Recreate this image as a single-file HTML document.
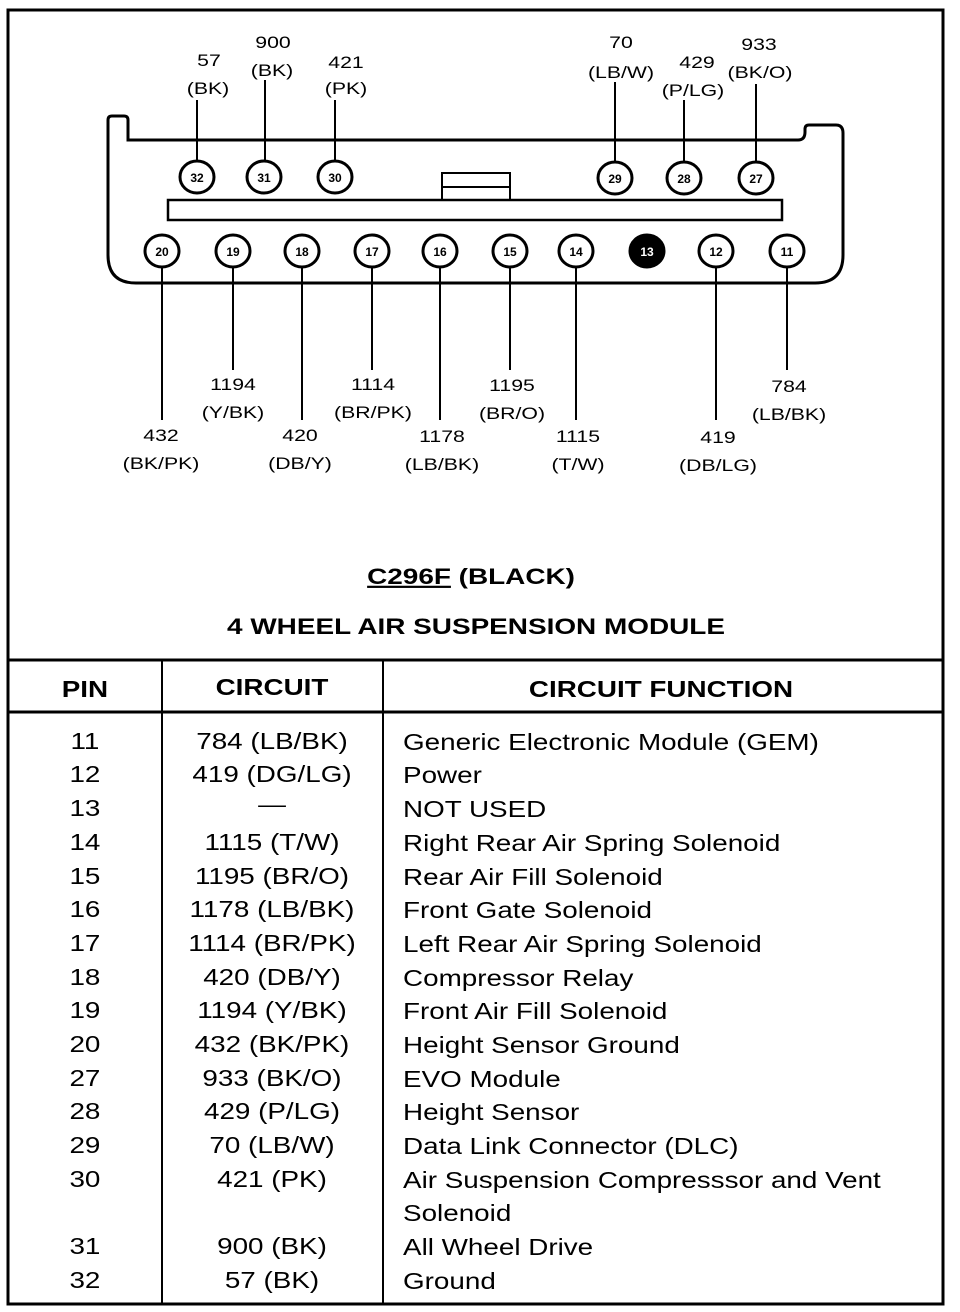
<!DOCTYPE html>
<html><head><meta charset="utf-8"><style>
html,body{margin:0;padding:0;background:#fff;}
svg{display:block;}
text{font-family:"Liberation Sans",Arial,sans-serif;fill:#000;}
.s{font-size:17px;text-anchor:middle;}
.p{font-size:12px;text-anchor:middle;font-weight:bold;}
.t{font-size:23px;}
.c{text-anchor:middle;}
.h{font-size:23px;font-weight:bold;text-anchor:middle;}
</style></head><body>
<svg width="960" height="1312" viewBox="0 0 960 1312" xmlns="http://www.w3.org/2000/svg">
<g fill="none" stroke="#000">
<rect x="8" y="10" width="935" height="1294" stroke-width="3"/>
<line x1="8" y1="660" x2="943" y2="660" stroke-width="3"/>
<line x1="8" y1="712" x2="943" y2="712" stroke-width="3"/>
<line x1="162" y1="660" x2="162" y2="1304" stroke-width="2"/>
<line x1="383" y1="660" x2="383" y2="1304" stroke-width="2"/>
<path d="M108,120 Q108,116 112,116 L124,116 Q128,116 128,120 L128,140 L798,140 Q805,140 805,132 L805,129 Q805,125 809,125 L836,125 Q843,125 843,133 L843,255 Q843,283 815,283 L136,283 Q108,283 108,255 Z" stroke-width="3"/>
<rect x="168" y="200" width="614" height="20" stroke-width="2.5"/>
<rect x="442" y="173" width="68" height="27" stroke-width="2"/>
<line x1="442" y1="187" x2="510" y2="187" stroke-width="2"/>
<g stroke-width="2">
<line x1="197" y1="100" x2="197" y2="161"/>
<line x1="265" y1="80" x2="265" y2="161"/>
<line x1="335" y1="100" x2="335" y2="161"/>
<line x1="615" y1="82" x2="615" y2="161"/>
<line x1="684" y1="100" x2="684" y2="161"/>
<line x1="756" y1="84" x2="756" y2="161"/>
<line x1="162" y1="267" x2="162" y2="420"/>
<line x1="233" y1="267" x2="233" y2="370"/>
<line x1="302" y1="267" x2="302" y2="420"/>
<line x1="372" y1="267" x2="372" y2="370"/>
<line x1="440" y1="267" x2="440" y2="420"/>
<line x1="510" y1="267" x2="510" y2="370"/>
<line x1="576" y1="267" x2="576" y2="420"/>
<line x1="716" y1="267" x2="716" y2="420"/>
<line x1="787" y1="267" x2="787" y2="370"/>
</g>
<g stroke-width="3" fill="#fff">
<ellipse cx="197" cy="177" rx="17" ry="16"/>
<ellipse cx="264" cy="177" rx="17" ry="16"/>
<ellipse cx="335" cy="177" rx="17" ry="16"/>
<ellipse cx="615" cy="178" rx="17" ry="16"/>
<ellipse cx="684" cy="178" rx="17" ry="16"/>
<ellipse cx="756" cy="178" rx="17" ry="16"/>
<ellipse cx="162" cy="251" rx="17" ry="16"/>
<ellipse cx="233" cy="251" rx="17" ry="16"/>
<ellipse cx="302" cy="251" rx="17" ry="16"/>
<ellipse cx="372" cy="251" rx="17" ry="16"/>
<ellipse cx="440" cy="251" rx="17" ry="16"/>
<ellipse cx="510" cy="251" rx="17" ry="16"/>
<ellipse cx="576" cy="251" rx="17" ry="16"/>
<ellipse cx="647" cy="251" rx="17" ry="16" fill="#000"/>
<ellipse cx="716" cy="251" rx="17" ry="16"/>
<ellipse cx="787" cy="251" rx="17" ry="16"/>
</g>
</g>
<g class="p">
<text x="197" y="182">32</text><text x="264" y="182">31</text><text x="335" y="182">30</text>
<text x="615" y="183">29</text><text x="684" y="183">28</text><text x="756" y="183">27</text>
<text x="162" y="256">20</text><text x="233" y="256">19</text><text x="302" y="256">18</text>
<text x="372" y="256">17</text><text x="440" y="256">16</text><text x="510" y="256">15</text>
<text x="576" y="256">14</text><text x="647" y="256" style="fill:#fff">13</text>
<text x="716" y="256">12</text><text x="787" y="256">11</text>
</g>
<g class="s" transform="scale(1.25,1)">
<text x="167.2" y="66">57</text><text x="166.4" y="94">(BK)</text>
<text x="218.4" y="48">900</text><text x="217.6" y="76">(BK)</text>
<text x="276.8" y="68">421</text><text x="276.8" y="94">(PK)</text>
<text x="496.8" y="48">70</text><text x="496.8" y="78">(LB/W)</text>
<text x="557.6" y="68">429</text><text x="554.4" y="96">(P/LG)</text>
<text x="607.2" y="50">933</text><text x="608" y="78">(BK/O)</text>
<text x="186.4" y="390">1194</text><text x="186.4" y="418">(Y/BK)</text>
<text x="128.8" y="441">432</text><text x="128.8" y="469">(BK/PK)</text>
<text x="240" y="441">420</text><text x="240" y="469">(DB/Y)</text>
<text x="298.4" y="390">1114</text><text x="298.4" y="418">(BR/PK)</text>
<text x="353.6" y="442">1178</text><text x="353.6" y="470">(LB/BK)</text>
<text x="409.6" y="391">1195</text><text x="409.6" y="419">(BR/O)</text>
<text x="462.4" y="442">1115</text><text x="462.4" y="470">(T/W)</text>
<text x="574.4" y="443">419</text><text x="574.4" y="471">(DB/LG)</text>
<text x="631.2" y="392">784</text><text x="631.2" y="420">(LB/BK)</text>
</g>
<g transform="scale(1.27,1)">
<text x="370.9" y="584" class="h" style="font-size:22px"><tspan text-decoration="underline">C296F</tspan> (BLACK)</text>
<text x="374.8" y="634" class="h" style="font-size:22px">4 WHEEL AIR SUSPENSION MODULE</text>
</g>
<g transform="scale(1.21,1)">
<text x="70.2" y="697" class="h">PIN</text>
<text x="224.8" y="695" class="h">CIRCUIT</text>
<text x="546.3" y="697" class="h">CIRCUIT FUNCTION</text>
<g class="t">
<g class="c">
<text x="70.2" y="749">11</text><text x="70.2" y="782">12</text><text x="70.2" y="816">13</text><text x="70.2" y="850">14</text>
<text x="70.2" y="884">15</text><text x="70.2" y="917">16</text><text x="70.2" y="951">17</text><text x="70.2" y="985">18</text>
<text x="70.2" y="1018">19</text><text x="70.2" y="1052">20</text><text x="70.2" y="1086">27</text><text x="70.2" y="1119">28</text>
<text x="70.2" y="1153">29</text><text x="70.2" y="1187">30</text><text x="70.2" y="1254">31</text><text x="70.2" y="1288">32</text>
<text x="224.8" y="749">784 (LB/BK)</text><text x="224.8" y="782">419 (DG/LG)</text><text x="224.8" y="812">—</text>
<text x="224.8" y="850">1115 (T/W)</text><text x="224.8" y="884">1195 (BR/O)</text><text x="224.8" y="917">1178 (LB/BK)</text>
<text x="224.8" y="951">1114 (BR/PK)</text><text x="224.8" y="985">420 (DB/Y)</text><text x="224.8" y="1018">1194  (Y/BK)</text>
<text x="224.8" y="1052">432 (BK/PK)</text><text x="224.8" y="1086">933 (BK/O)</text><text x="224.8" y="1119">429 (P/LG)</text>
<text x="224.8" y="1153">70 (LB/W)</text><text x="224.8" y="1187">421 (PK)</text><text x="224.8" y="1254">900 (BK)</text>
<text x="224.8" y="1288">57 (BK)</text>
</g>
<text x="333.1" y="750">Generic Electronic Module (GEM)</text>
<text x="333.1" y="783">Power</text>
<text x="333.1" y="817">NOT USED</text>
<text x="333.1" y="851">Right Rear Air Spring Solenoid</text>
<text x="333.1" y="885">Rear Air Fill Solenoid</text>
<text x="333.1" y="918">Front Gate Solenoid</text>
<text x="333.1" y="952">Left Rear Air Spring Solenoid</text>
<text x="333.1" y="986">Compressor Relay</text>
<text x="333.1" y="1019">Front Air Fill Solenoid</text>
<text x="333.1" y="1053">Height Sensor Ground</text>
<text x="333.1" y="1087">EVO Module</text>
<text x="333.1" y="1120">Height Sensor</text>
<text x="333.1" y="1154">Data Link Connector (DLC)</text>
<text x="333.1" y="1188">Air Suspension Compresssor and Vent</text>
<text x="333.1" y="1221">Solenoid</text>
<text x="333.1" y="1255">All Wheel Drive</text>
<text x="333.1" y="1289">Ground</text>
</g>
</g>
</svg>
</body></html>
